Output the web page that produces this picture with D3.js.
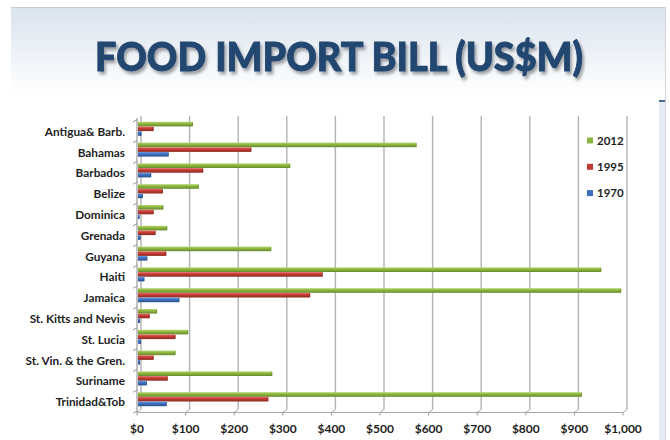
<!DOCTYPE html>
<html>
<head>
<meta charset="utf-8">
<script src="https://cdn.jsdelivr.net/npm/d3@7"></script>
<style>
  html, body { margin: 0; padding: 0; background: #ffffff; }
  svg { display: block; }
  text { font-family: Lato, "Open Sans", sans-serif; }
</style>
</head>
<body>
<svg id="chart" width="670" height="440"></svg>
<script>
// Food import bill by country, US$ millions
const categories = [
  "Antigua& Barb.", "Bahamas", "Barbados", "Belize", "Dominica", "Grenada",
  "Guyana", "Haiti", "Jamaica", "St. Kitts and Nevis", "St. Lucia",
  "St. Vin. & the Gren.", "Suriname", "Trinidad&Tob"
];
const seriesNames = ["2012", "1995", "1970"];
const values2012 = [112, 572, 312, 124, 51, 59, 273, 952, 993, 38, 102, 76, 275, 912];
const values1995 = [31, 232, 133, 50, 31, 35, 57, 379, 353, 23, 76, 31, 60, 267];
const values1970 = [6, 62, 26, 9, 2, 4, 18, 12, 84, 3, 5, 3, 17, 58];
const xTicks = [0, 100, 200, 300, 400, 500, 600, 700, 800, 900, 1000];

const seriesValues = { "2012": values2012, "1995": values1995, "1970": values1970 };
const seriesColors = {
  "2012": ["#b2d66a", "#8cb440", "#66892a"],
  "1995": ["#e06a63", "#c23b33", "#8e2a24"],
  "1970": ["#6c9be0", "#3d6fc0", "#2b518f"]
};

const svg = d3.select("#chart");
const defs = svg.append("defs");

// header band
const hdr = defs.append("linearGradient").attr("id", "hdrGrad")
  .attr("x1", 0).attr("y1", 0).attr("x2", 0).attr("y2", 1);
hdr.append("stop").attr("offset", "0%").attr("stop-color", "#dae3ee");
hdr.append("stop").attr("offset", "100%").attr("stop-color", "#ffffff");

const shadow = defs.append("filter").attr("id", "titleShadow")
  .attr("x", "-5%").attr("y", "-20%").attr("width", "110%").attr("height", "150%");
shadow.append("feDropShadow").attr("dx", 2).attr("dy", 3)
  .attr("stdDeviation", 1.6).attr("flood-color", "#000").attr("flood-opacity", 0.35);

seriesNames.forEach(s => {
  const g = defs.append("linearGradient").attr("id", "bar" + s)
    .attr("x1", 0).attr("y1", 0).attr("x2", 0).attr("y2", 1);
  const c = seriesColors[s];
  g.append("stop").attr("offset", "0%").attr("stop-color", c[0]);
  g.append("stop").attr("offset", "45%").attr("stop-color", c[1]);
  g.append("stop").attr("offset", "100%").attr("stop-color", c[2]);
});

svg.append("rect").attr("x", 11).attr("y", 7).attr("width", 654).attr("height", 88)
  .attr("fill", "url(#hdrGrad)");
svg.append("line").attr("x1", 11).attr("x2", 665).attr("y1", 7.5).attr("y2", 7.5)
  .attr("stroke", "#c9cdd2").attr("stroke-width", 1);
svg.append("line").attr("x1", 665.5).attr("x2", 665.5).attr("y1", 7).attr("y2", 440)
  .attr("stroke", "#d3d7dc").attr("stroke-width", 1);
svg.append("rect").attr("x", 659).attr("y", 100).attr("width", 6).attr("height", 340)
  .attr("fill", "#e4ebf4");
svg.append("rect").attr("x", 659).attr("y", 100).attr("width", 6).attr("height", 2)
  .attr("fill", "#4a6a92");

svg.append("text")
  .attr("x", 95).attr("y", 71)
  .attr("textLength", 488).attr("lengthAdjust", "spacingAndGlyphs")
  .attr("font-size", 40).attr("font-weight", 900)
  .attr("fill", "#22466f").attr("stroke", "#22466f").attr("stroke-width", 0.9)
  .attr("filter", "url(#titleShadow)")
  .text("FOOD IMPORT BILL (US$M)");

// scales: front edge (axis) and back wall (gridlines) offset for depth
const depth = 4;
const x = d3.scaleLinear().domain([0, 1000]).range([137, 623]);
const y = d3.scaleBand().domain(categories).range([120.8, 412]).paddingInner(0);
const ySub = d3.scaleBand().domain(seriesNames).range([1, 15]).paddingInner(0.02);

const gridTop = 116, gridBottom = 409.5, floorY = 412.5;

// back-wall gridlines
svg.append("g").selectAll("line").data(xTicks).join("line")
  .attr("x1", d => x(d) + depth).attr("x2", d => x(d) + depth)
  .attr("y1", gridTop).attr("y2", gridBottom)
  .attr("stroke", "#b3b3b3").attr("stroke-width", 1.4);

// floor edges running from the back wall to the front axis
svg.append("g").selectAll("line").data(xTicks).join("line")
  .attr("x1", d => x(d) + depth).attr("x2", d => x(d))
  .attr("y1", gridBottom).attr("y2", floorY)
  .attr("stroke", "#a8a8a8").attr("stroke-width", 1);

// category axis line and ticks
svg.append("line").attr("x1", x(0)).attr("x2", x(0)).attr("y1", gridTop + 2).attr("y2", floorY)
  .attr("stroke", "#9a9a9a").attr("stroke-width", 1.2);
const bounds = d3.range(categories.length + 1).map(i => 120.8 + i * y.bandwidth());
svg.append("g").selectAll("line").data(bounds).join("line")
  .attr("x1", x(0) - 4).attr("x2", x(0)).attr("y1", d => d + 1).attr("y2", d => d - 1)
  .attr("stroke", "#9a9a9a").attr("stroke-width", 1);

// value axis line and ticks
svg.append("line").attr("x1", x(0)).attr("x2", x(1000)).attr("y1", floorY).attr("y2", floorY)
  .attr("stroke", "#a8a8a8").attr("stroke-width", 1.2);
svg.append("g").selectAll("line").data(xTicks).join("line")
  .attr("x1", d => x(d)).attr("x2", d => x(d)).attr("y1", floorY).attr("y2", floorY + 3)
  .attr("stroke", "#9a9a9a").attr("stroke-width", 1);

// bars
const barX0 = x(0) + 1;
seriesNames.forEach(s => {
  const vals = seriesValues[s];
  const g = svg.append("g");
  g.selectAll("rect").data(categories).join("rect")
    .attr("x", barX0)
    .attr("y", d => y(d) + ySub(s))
    .attr("width", (d, i) => Math.max(0.8, x(vals[i]) + 1.5 - barX0))
    .attr("height", ySub.bandwidth())
    .attr("fill", "url(#bar" + s + ")");
  // darker end caps
  g.selectAll("rect.cap").data(categories).join("rect").attr("class", "cap")
    .attr("x", (d, i) => x(vals[i]) + 0.5)
    .attr("y", d => y(d) + ySub(s) + 0.5)
    .attr("width", 1.2)
    .attr("height", ySub.bandwidth() - 1)
    .attr("fill", seriesColors[s][2]).attr("opacity", 0.6);
});

// category labels
svg.append("g").selectAll("text").data(categories).join("text")
  .attr("x", 125).attr("y", d => y(d) + y.bandwidth() / 2 + 0.5)
  .attr("dy", "0.35em").attr("text-anchor", "end")
  .attr("font-size", 11.8).attr("font-weight", 700).attr("fill", "#1e1e1e")
  .text(d => d);

// value tick labels
const fmt = d3.format("$,.0f");
svg.append("g").selectAll("text").data(xTicks).join("text")
  .attr("x", d => x(d)).attr("y", 433)
  .attr("text-anchor", "middle")
  .attr("font-size", 12).attr("font-weight", 700).attr("fill", "#1e1e1e")
  .text(d => fmt(d));

// legend
const legend = svg.append("g").selectAll("g").data(seriesNames).join("g")
  .attr("transform", (d, i) => `translate(587, ${140.5 + i * 26.3})`);
legend.append("rect").attr("x", 0).attr("y", -3).attr("width", 6).attr("height", 6)
  .attr("fill", d => seriesColors[d][1]);
legend.append("text").attr("x", 10).attr("y", 0).attr("dy", "0.35em")
  .attr("font-size", 11.5).attr("font-weight", 700).attr("fill", "#1e1e1e")
  .text(d => d);
</script>
</body>
</html>
